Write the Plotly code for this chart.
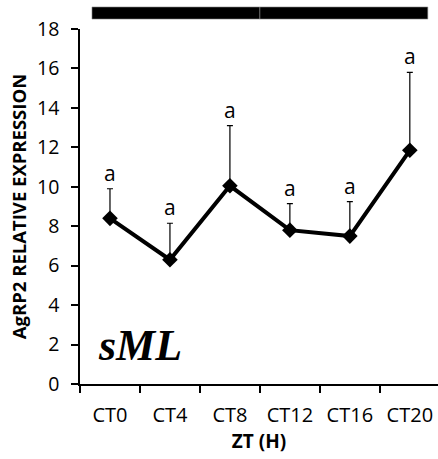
import plotly.graph_objects as go

categories = ["CT0", "CT4", "CT8", "CT12", "CT16", "CT20"]
expression = [8.4, 6.3, 10.05, 7.8, 7.5, 11.85]
error_plus = [1.5, 1.85, 3.05, 1.35, 1.75, 3.95]
sig_letters = ["a", "a", "a", "a", "a", "a"]

x_range = [-0.5, 5.47]
y_range = [0, 18]

fig = go.Figure()
fig.add_trace(go.Scatter(
    x=categories, y=expression, mode="lines+markers",
    line=dict(color="black", width=4),
    marker=dict(symbol="diamond", size=12, color="black"),
    error_y=dict(type="data", array=error_plus, arrayminus=[0] * len(expression),
                 symmetric=False, color="black", thickness=1.2, width=3),
    showlegend=False,
))

for c, v, e, s in zip(categories, expression, error_plus, sig_letters):
    fig.add_annotation(x=c, y=v + e, text=s, showarrow=False, yanchor="bottom",
                       yshift=0, font=dict(family="Open Sans", size=21, color="black"))

fig.add_annotation(x=0.5, y=1.95, text="<b><i>sML</i></b>", showarrow=False,
                   xanchor="center", yanchor="middle",
                   font=dict(family="Liberation Serif", size=44, color="black"))

def xfrac(v):
    return (v - x_range[0]) / (x_range[1] - x_range[0])

# top black bars (subjective day / night under constant darkness)
for a, b in [(-0.3, 2.5), (2.5, 5.3)]:
    fig.add_shape(type="rect", xref="x domain", yref="paper",
                  x0=xfrac(a), x1=xfrac(b), y0=1.028, y1=1.062,
                  fillcolor="black", line=dict(color="#888888", width=0.6))

fig.update_xaxes(type="category", range=x_range, tickson="boundaries",
                 ticks="outside", ticklen=7, tickwidth=1.5, tickcolor="black",
                 showline=True, linecolor="black", linewidth=1.5, showgrid=False,
                 ticklabelstandoff=12,
                 tickfont=dict(family="Open Sans", size=20, color="black"),
                 title=dict(text="<b>ZT (H)</b>", standoff=2,
                            font=dict(family="Open Sans", size=19, color="black")))
fig.update_yaxes(range=y_range, dtick=2, ticks="outside", ticklen=7, tickwidth=1.5,
                 tickcolor="black", showline=True, linecolor="black", linewidth=1.5,
                 showgrid=False, zeroline=False, ticklabelstandoff=8,
                 tickfont=dict(family="Open Sans", size=19.5, color="black"),
                 title=dict(text="<b>AgRP2 RELATIVE EXPRESSION</b>", standoff=6,
                            font=dict(family="Open Sans", size=18.5, color="black")))

fig.update_layout(width=438, height=459, margin=dict(l=80, r=0, t=29, b=75),
                  paper_bgcolor="white", plot_bgcolor="white")

fig.write_html("out.html")
